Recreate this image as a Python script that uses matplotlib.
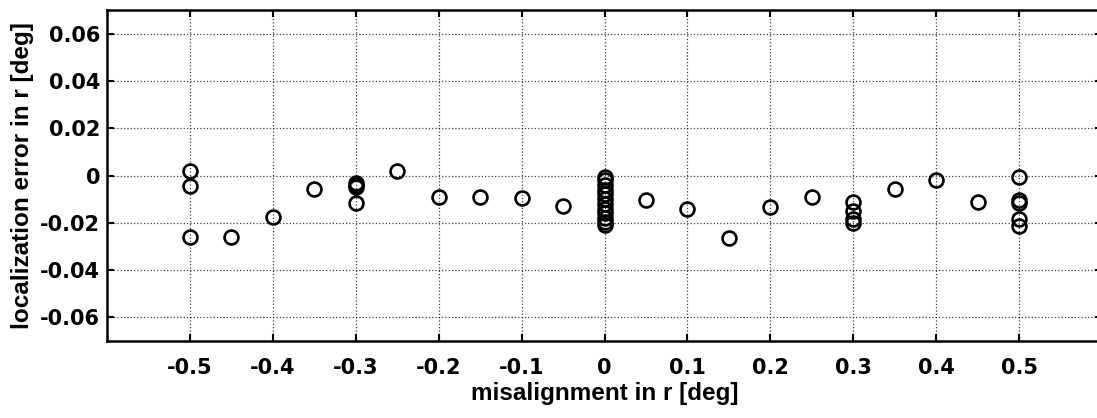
import matplotlib
matplotlib.use("Agg")
import matplotlib.pyplot as plt
import numpy as np

plt.rcParams['font.family'] = ['Liberation Sans', 'DejaVu Sans']
plt.rcParams['axes.unicode_minus'] = False

# misalignment in r [deg] and the localization error measured there
mis = [-0.5, -0.5, -0.5, -0.45, -0.4, -0.35,
       -0.3, -0.3, -0.3, -0.3, -0.25, -0.2, -0.15, -0.1, -0.05,
       0, 0, 0, 0, 0, 0, 0, 0, 0, 0, 0, 0,
       0.05, 0.1, 0.15, 0.2, 0.25,
       0.3, 0.3, 0.3, 0.3, 0.35, 0.4, 0.45,
       0.5, 0.5, 0.5, 0.5, 0.5]
err = [0.002, -0.0045, -0.026, -0.026, -0.0175, -0.0055,
       -0.003, -0.004, -0.005, -0.0115, 0.002, -0.0093, -0.0093, -0.0097, -0.013,
       -0.0005, -0.002, -0.004, -0.006, -0.008, -0.010, -0.012, -0.014, -0.016, -0.018, -0.0195, -0.021,
       -0.0104, -0.014, -0.0265, -0.0132, -0.009,
       -0.011, -0.015, -0.0185, -0.020, -0.0055, -0.002, -0.0114,
       -0.0005, -0.0105, -0.0115, -0.0185, -0.0215]

xticks = [-0.5, -0.4, -0.3, -0.2, -0.1, 0, 0.1, 0.2, 0.3, 0.4, 0.5]
xticklabels = ['-0.5', '-0.4', '-0.3', '-0.2', '-0.1', '0', '0.1', '0.2', '0.3', '0.4', '0.5']
yticks = [-0.06, -0.04, -0.02, 0, 0.02, 0.04, 0.06]
yticklabels = ['-0.06', '-0.04', '-0.02', '0', '0.02', '0.04', '0.06']

fig = plt.figure(figsize=(10.97, 4.18), dpi=100)
# axes runs to x=0.6, a bit past the right edge of the picture
ax = fig.add_axes([107 / 1097, 77 / 418, 995 / 1097, 331 / 418])

ax.plot(mis, err, 'o', mfc='none', mec='black', ms=10, mew=1.9, zorder=3)

ax.set_xlim(-0.6, 0.6)
ax.set_ylim(-0.07, 0.07)
ax.set_xticks(xticks)
ax.set_xticklabels(xticklabels)
ax.set_yticks(yticks)
ax.set_yticklabels(yticklabels)
ax.grid(True, linestyle=':', color='black', linewidth=0.9, alpha=0.75)

ax.tick_params(direction='in', length=5, width=1.5, top=True, right=True)
ax.tick_params(axis='x', pad=12)
ax.tick_params(axis='y', pad=5)
for lab in ax.get_xticklabels() + ax.get_yticklabels():
    lab.set_fontfamily('DejaVu Sans')
    lab.set_fontweight('bold')
    lab.set_fontsize(15)
for s in ax.spines.values():
    s.set_linewidth(1.8)

ax.set_xlabel('misalignment in r [deg]', fontsize=17.5, fontweight='bold')
ax.set_ylabel('localization error in r [deg]', fontsize=17.5, fontweight='bold')
ax.xaxis.set_label_coords(0.5, -0.125)
ax.yaxis.set_label_coords(-0.0735, 0.5)

fig.savefig('out.png', dpi=100)
